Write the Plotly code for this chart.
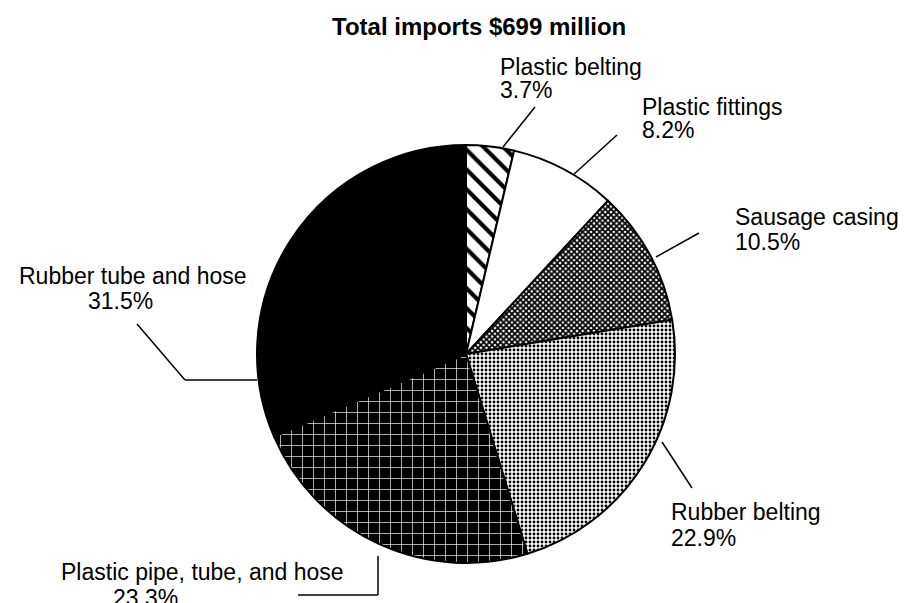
import plotly.graph_objects as go

W, H = 904, 603

categories = ["Plastic belting", "Plastic fittings", "Sausage casing",
              "Rubber belting", "Plastic pipe, tube, and hose", "Rubber tube and hose"]
shares = [3.7, 8.2, 10.5, 22.9, 23.3, 31.5]
title_text = "Total imports $699 million"

pat_shape = ["\\", "", "x", ".", "+", ""]
pat_fg = ["black", "black", "black", "black", "white", "black"]
pat_bg = ["white", "white", "white", "white", "black", "black"]
pat_size = [14, 8, 4, 4, 11, 8]
pat_solid = [0.3, 0.3, 0.7, 0.4, 0.12, 0.3]


def px(x):
    return x / W


def py(y):
    return 1 - y / H


cx, cy, r = 466, 354, 209

fig = go.Figure(go.Pie(
    values=shares,
    labels=categories,
    sort=False,
    direction="clockwise",
    rotation=0,
    textinfo="none",
    hoverinfo="label+percent",
    showlegend=False,
    domain=dict(x=[px(cx - r), px(cx + r)], y=[py(cy + r), py(cy - r)]),
    marker=dict(
        colors=pat_bg,
        line=dict(color="black", width=2),
        pattern=dict(shape=pat_shape, fgcolor=pat_fg, bgcolor=pat_bg,
                     size=pat_size, solidity=pat_solid, fillmode="replace"),
    ),
))

FAM = "Liberation Sans, Arial, sans-serif"
font = dict(family=FAM, size=23, color="black")

# (text, x, y, xanchor) label lines, one annotation per line
lines = [
    (categories[0], 498, 67, "left"), (f"{shares[0]}%", 498, 90, "left"),
    (categories[1], 640, 107, "left"), (f"{shares[1]}%", 640, 130, "left"),
    (categories[2], 733, 217, "left"), (f"{shares[2]}%", 733, 242, "left"),
    (categories[3], 669, 512, "left"), (f"{shares[3]}%", 669, 538, "left"),
    (categories[5], 133, 276, "center"), (f"{shares[5]}%", 120, 301, "center"),
    (categories[4], 202, 572, "center"), (f"{shares[4]}%", 145, 598, "center"),
]

annotations = [dict(text=f"<b>{title_text}</b>", x=px(479), y=py(26), xref="paper", yref="paper",
                    showarrow=False, font=dict(family=FAM, size=24, color="black"),
                    xanchor="center", yanchor="middle")]
for t, x, y, xa in lines:
    annotations.append(dict(text=t, x=px(x), y=py(y), xref="paper", yref="paper", showarrow=False,
                            font=font, xanchor=xa, yanchor="middle"))

leaders = [
    [(503, 147), (535, 107)],
    [(573, 175), (617, 135)],
    [(656, 257), (699, 233)],
    [(662, 442), (692, 488)],
    [(257, 380), (185, 380), (137, 324)],
    [(378, 556), (378, 595), (298, 595)],
]
shapes = []
for pts in leaders:
    for (x0, y0), (x1, y1) in zip(pts[:-1], pts[1:]):
        shapes.append(dict(type="line", xref="paper", yref="paper",
                           x0=px(x0), y0=py(y0), x1=px(x1), y1=py(y1),
                           line=dict(color="black", width=1.5)))

fig.update_layout(
    width=W, height=H,
    margin=dict(l=0, r=0, t=0, b=0),
    paper_bgcolor="white", plot_bgcolor="white",
    annotations=annotations, shapes=shapes,
)

fig.write_html("out.html")
